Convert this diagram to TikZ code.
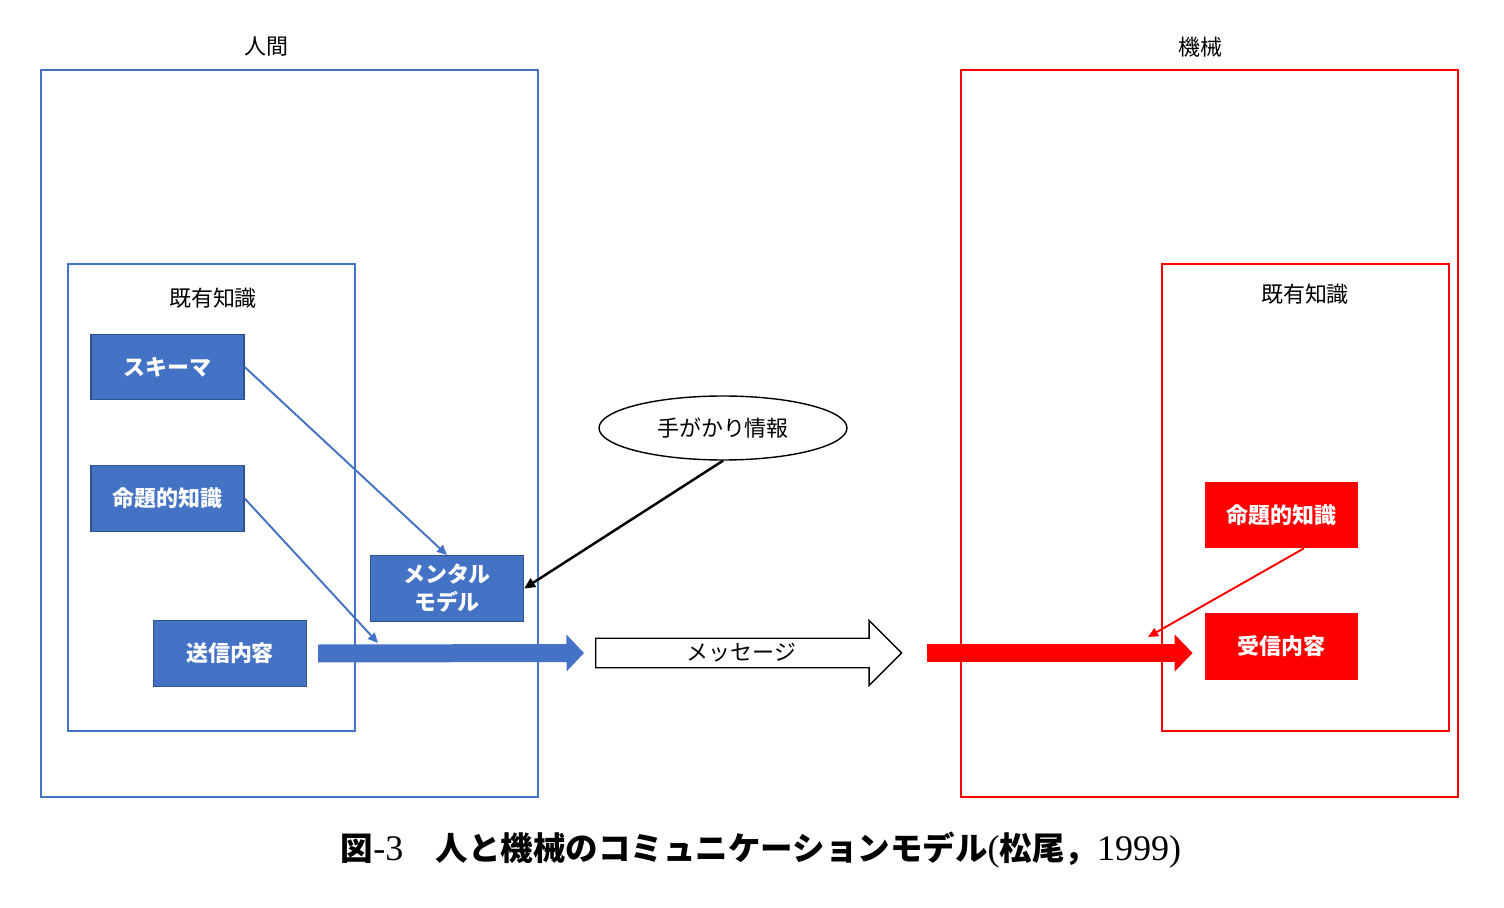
\documentclass[tikz,border=0pt]{standalone}
\usepackage{fontspec}
\setmainfont{Noto Sans CJK JP}
\newfontfamily\capserif{Liberation Serif}
\usepackage{tikz}
\usetikzlibrary{positioning}
\usetikzlibrary{shapes.geometric}
\usetikzlibrary{shapes.arrows}
\usetikzlibrary{arrows.meta}
\usepackage{xcolor}
\definecolor{hblue}{HTML}{4472C4}
\definecolor{hblueedge}{HTML}{2F528F}
\definecolor{mred}{HTML}{FF0000}

\begin{document}
\begin{tikzpicture}[
    x=0.02cm, y=-0.02cm,
    font=\fontsize{12.5pt}{15pt}\selectfont,
    bluebox/.style={rectangle, draw=hblueedge, line width=0.8pt, fill=hblue, text=white, font=\fontsize{12.5pt}{15pt}\selectfont\bfseries, align=center, minimum width=3.06cm, minimum height=1.31cm},
    redbox/.style={rectangle, fill=mred, text=white, font=\fontsize{12.5pt}{15pt}\selectfont\bfseries, minimum width=3.06cm, minimum height=1.32cm},
    blueframe/.style={draw=hblue, line width=1pt},
    redframe/.style={draw=mred, line width=1pt},
    thinblue/.style={-{Triangle[length=0.2cm, width=0.18cm]}, draw=hblue, line width=1.1pt},
    thinred/.style={-{Triangle[length=0.2cm, width=0.18cm]}, draw=mred, line width=1.1pt},
    thinblack/.style={-{Triangle[length=0.22cm, width=0.2cm]}, draw=black, line width=1.4pt},
    fatblue/.style={-{Triangle[length=0.35cm, width=0.72cm]}, draw=hblue, line width=0.36cm},
    fatred/.style={-{Triangle[length=0.36cm, width=0.72cm]}, draw=mred, line width=0.36cm}
]
    \useasboundingbox (0,0) rectangle (1504,908);

    % Human side
    \draw[blueframe] (41,70) rectangle (538,797);
    \node (human) at (266,47) {人間};
    \draw[blueframe] (68,264) rectangle (355,731);
    \node (hknow) at (213,298) {既有知識};
    \node[bluebox] (schema) at (167.5,367) {スキーマ};
    \node[bluebox] (hprop) at (167.5,498.5) {命題的知識};
    \node[bluebox] (send) at (230,653.5) {送信内容};
    \node[bluebox] (mental) at (447,588.5) {メンタル\\[1pt]モデル};

    % Cue and message
    \node[ellipse, draw, line width=0.8pt, minimum width=4.96cm, minimum height=1.28cm] (cue) at (723,428) {手がかり情報};
    \node[single arrow, draw, line width=0.8pt, minimum height=6.12cm, minimum width=1.3cm,
          single arrow head extend=0.33cm, inner ysep=2pt, anchor=tail] (msg) at (595,653) {メッセージ};

    % Machine side
    \draw[redframe] (961,70) rectangle (1458,797);
    \node (machine) at (1200,47) {機械};
    \draw[redframe] (1162,264) rectangle (1449,731);
    \node (mknow) at (1305,294) {既有知識};
    \node[redbox] (mprop) at (1281.5,515) {命題的知識};
    \node[redbox, minimum height=1.34cm] (recv) at (1281.5,646.5) {受信内容};

    % Arrows
    \coordinate (sendin) at (378,643);
    \coordinate (recvin) at (1148,637);
    \path (msg.tip -| recv.west) coordinate (recvhit);
    \draw[thinblue] (schema.east) -- (mental.north);
    \draw[thinblue] (hprop.east) -- (sendin);
    \draw[thinblack] (cue.south) -- (mental.east);
    \draw[fatblue] ([xshift=0.22cm]send.east) -- ([xshift=-0.22cm]msg.tail);
    \draw[fatred] ([xshift=0.48cm]msg.tip) -- ([xshift=-0.24cm]recvhit);
    \draw[thinred] ([xshift=0.45cm]mprop.south) -- (recvin);

    % Caption
    \node[font=\fontsize{18.5pt}{22pt}\selectfont\bfseries] (caption) at (761,850)
        {図{\capserif\mdseries\fontsize{20.5pt}{22pt}\selectfont -3}\quad 人と機械のコミュニケーションモデル{\capserif\mdseries\fontsize{20.5pt}{22pt}\selectfont (}松尾，{\capserif\mdseries\fontsize{20.5pt}{22pt}\selectfont 1999)}};
\end{tikzpicture}
\end{document}
